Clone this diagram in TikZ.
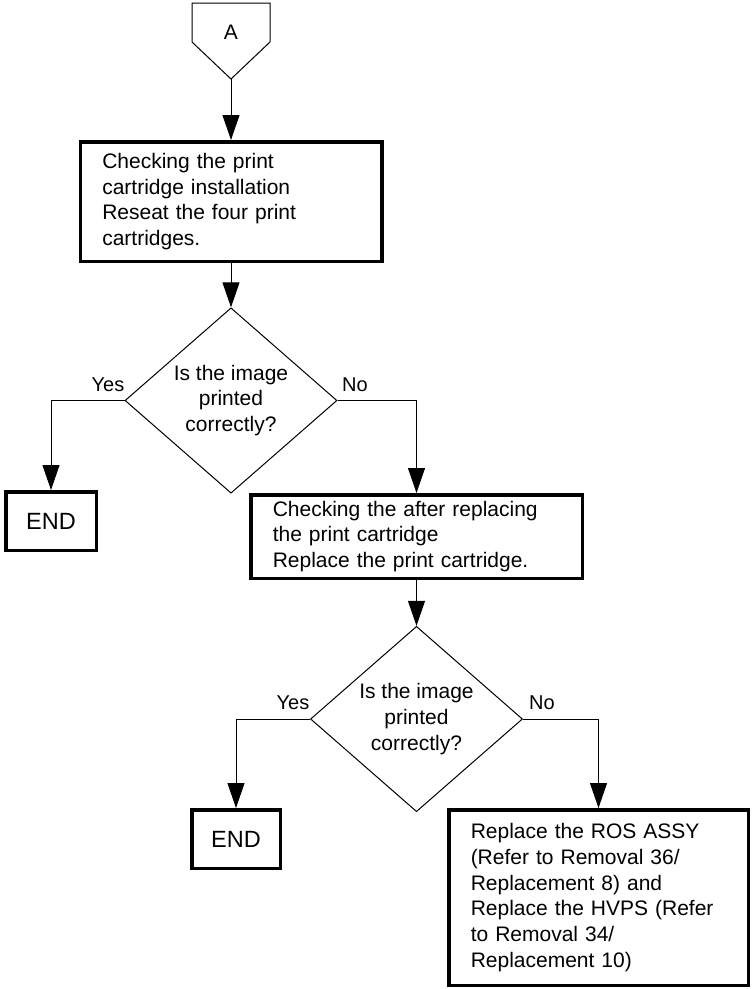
\documentclass[tikz,border=0pt]{standalone}
\usepackage{fontspec}
\setmainfont{Liberation Sans}
\usepackage{tikz}
\usetikzlibrary{shapes.geometric,arrows.meta,positioning}
\tikzset{
    % Base text for all nodes
    basetext/.style={
        font=\fontsize{21}{25.7}\selectfont
    },
    % Process box style
    procbox/.style={
        basetext,
        draw=black,
        line width=3.5pt,
        inner xsep=22pt,
        inner ysep=0pt,
        align=left
    },
    % End box style
    endbox/.style={
        draw=black,
        line width=3.5pt,
        inner sep=0pt,
        minimum height=58.5pt,
        font=\fontsize{23.5}{28}\selectfont
    },
    % Decision style
    decision/.style={
        diamond,
        basetext,
        draw=black,
        line width=1pt,
        inner sep=0pt,
        minimum width=212pt,
        minimum height=151pt,
        align=center
    },
    % Yes / No labels
    answer/.style={
        inner sep=0pt,
        font=\fontsize{20}{24}\selectfont
    },
    % Plain line
    flowline/.style={
        line width=1pt,
        draw=black
    },
    % Arrow style
    myarrow/.style={
        flowline,
        -{Triangle[length=25pt,width=17pt]}
    }
}
\begin{document}
\begin{tikzpicture}[x=1pt,y=-1pt]
    \useasboundingbox (0,0) rectangle (752,989);

    % off-page connector
    \draw[flowline] (192,3) -- (270,3) -- (270,42) -- (231,79) -- (192,42) -- cycle;
    \node[basetext] (conA) at (231,32) {A};
    \coordinate (conAtip) at (231,79);

    \node[procbox, minimum width=301.5pt, minimum height=119.5pt, text width=257.5pt] (box1) at (231,201.5)
        {Checking the print\\cartridge installation\\Reseat the four print\\cartridges.};
    \node[decision] (d1) at (231,400.5) {Is the image\\printed\\correctly?};
    \node[endbox, minimum width=90.5pt] (end1) at (51,521) {END};
    \node[procbox, minimum width=331.5pt, minimum height=83.5pt, text width=287.5pt] (box2) at (416.5,536.5)
        {Checking the after replacing\\the print cartridge\\Replace the print cartridge.};
    \node[decision] (d2) at (416.5,719) {Is the image\\printed\\correctly?};
    \node[endbox, minimum width=88.5pt] (end2) at (236,839) {END};
    \node[procbox, minimum width=299.5pt, minimum height=175.5pt, text width=255.5pt] (box3) at (598.5,897.5)
        {Replace the ROS ASSY\\(Refer to Removal 36/\\Replacement 8) and\\Replace the HVPS (Refer\\to Removal 34/\\Replacement 10)};

    \node[answer] (yes1) at (108,385) {Yes};
    \node[answer] (no1) at (355,385) {No};
    \node[answer] (yes2) at (293,703) {Yes};
    \node[answer] (no2) at (542,703) {No};

    \draw[myarrow] (conAtip) -- (box1.north);
    \draw[myarrow] (box1.south) -- (d1.north);
    \draw[myarrow] (d1.west) -| (end1.north);
    \draw[myarrow] (d1.east) -| (box2.north);
    \draw[myarrow] (box2.south) -- (d2.north);
    \draw[myarrow] (d2.west) -| (end2.north);
    \draw[myarrow] (d2.east) -| (box3.north);
\end{tikzpicture}
\end{document}
